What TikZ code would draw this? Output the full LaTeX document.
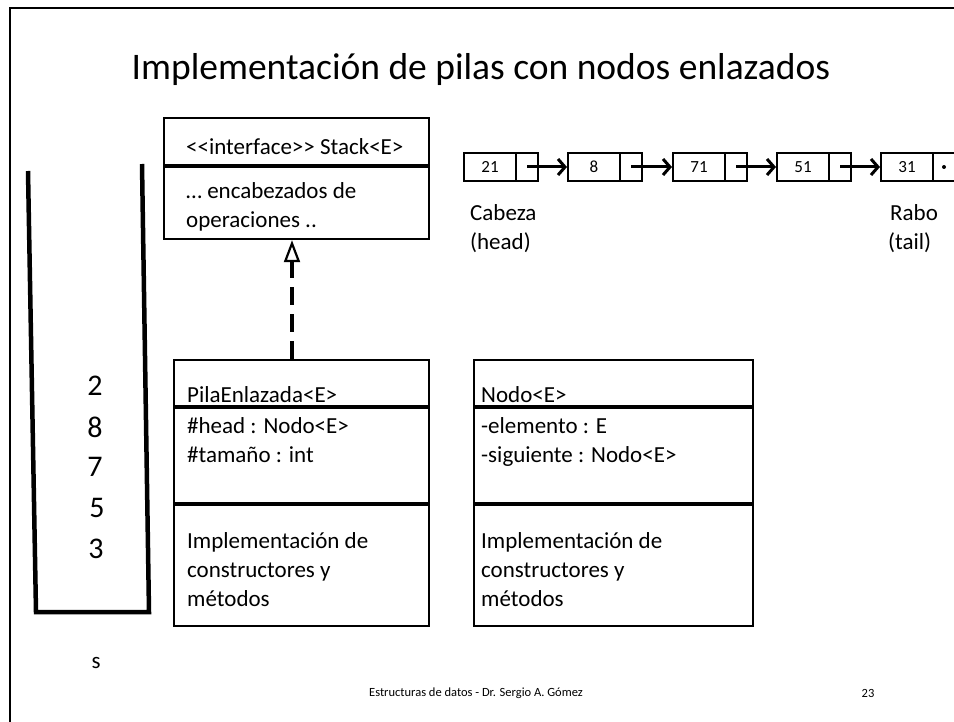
\documentclass[tikz,border=0pt]{standalone}
\usepackage{fontspec}
\setmainfont{Carlito}
\usetikzlibrary{arrows.meta}
\newcommand\fsz[1]{\fontsize{#1pt}{#1pt}\selectfont}
\tikzset{
  box/.style={draw, line width=2.2pt, anchor=north west, inner sep=0pt},
  divider/.style={line width=3.5pt},
  txt/.style={anchor=base west, inner sep=0pt, font=\fsz{23}},
  cell/.style={draw, line width=2pt, anchor=north west, inner sep=0pt, minimum height=28pt},
  num/.style={inner sep=0pt, font=\fsz{17}},
  linkarrow/.style={line width=3pt, -{Straight Barb[length=7pt, width=16pt, line width=3pt]}},
  stackline/.style={line width=4.5pt},
  digit/.style={inner sep=0pt, font=\fsz{30}},
}
\begin{document}
\begin{tikzpicture}[x=1pt, y=-1pt]
\useasboundingbox (0,0) rectangle (954,722);
% slide frame
\coordinate (fa) at (954,8);
\coordinate (fb) at (10,8);
\coordinate (fc) at (10,722);
\draw[line width=2.5pt] (fa) -- (fb) -- (fc);

% title
\node[inner sep=0pt, font=\fsz{37.5}] (title) at (481,70) {Implementación de pilas con nodos enlazados};

% interface box
\node[box, minimum width=265pt, minimum height=121pt] (iface) at (163,117) {};
\draw[divider] (iface.west |- 0,166) -- (iface.east |- 0,166);
\node[txt] (ift) at (186,155) {<{}<interface>{}> Stack<E>};
\node[txt] (ifo1) at (186,199) {… encabezados de};
\node[txt] (ifo2) at (186,228) {operaciones ..};

% PilaEnlazada box
\node[box, minimum width=255pt, minimum height=266pt] (pila) at (173,359) {};
\draw[divider] (pila.west |- 0,407) -- (pila.east |- 0,407);
\draw[divider] (pila.west |- 0,504) -- (pila.east |- 0,504);
\node[txt] (pn) at (187,402) {PilaEnlazada<E>};
\node[txt] (pa1) at (187,433) {\#head : Nodo<E>};
\node[txt] (pa2) at (187,462) {\#tamaño : int};
\node[txt] (pm1) at (187,548) {Implementación de};
\node[txt] (pm2) at (187,577) {constructores y};
\node[txt] (pm3) at (187,606) {métodos};

% Nodo box
\node[box, minimum width=279pt, minimum height=266pt] (nodo) at (473,359) {};
\draw[divider] (nodo.west |- 0,407) -- (nodo.east |- 0,407);
\draw[divider] (nodo.west |- 0,504) -- (nodo.east |- 0,504);
\node[txt] (nn) at (481,402) {Nodo<E>};
\node[txt] (na1) at (481,433) {-elemento : E};
\node[txt] (na2) at (481,462) {-siguiente : Nodo<E>};
\node[txt] (nm1) at (481,548) {Implementación de};
\node[txt] (nm2) at (481,577) {constructores y};
\node[txt] (nm3) at (481,606) {métodos};

% realization arrow
\draw[line width=3.5pt, dash pattern=on 18pt off 9pt,
  -{Triangle[open, length=22pt, width=16pt, line width=2.2pt]}] (pila.north -| 292,0) -- (iface.south -| 292,0);

% linked list
\node[cell, minimum width=52pt] (v1) at (463,152) {};
\node[cell, minimum width=22pt] (p1) at (515,152) {};
\node[cell, minimum width=52pt] (v2) at (567,152) {};
\node[cell, minimum width=22pt] (p2) at (619,152) {};
\node[cell, minimum width=52pt] (v3) at (672,152) {};
\node[cell, minimum width=22pt] (p3) at (724,152) {};
\node[cell, minimum width=52pt] (v4) at (776,152) {};
\node[cell, minimum width=22pt] (p4) at (828,152) {};
\node[cell, minimum width=52pt] (v5) at (880,152) {};
\node[cell, minimum width=22pt] (p5) at (932,152) {};
\node[num] (t1) at (v1.center) {21};
\node[num] (t2) at (v2.center) {8};
\node[num] (t3) at (v3.center) {71};
\node[num] (t4) at (v4.center) {51};
\node[num] (t5) at (v5.center) {31};
\draw[linkarrow] (p1.center) -- (v2.west);
\draw[linkarrow] (p2.center) -- (v3.west);
\draw[linkarrow] (p3.center) -- (v4.west);
\draw[linkarrow] (p4.center) -- (v5.west);
\fill (p5.center) circle (2pt);
\node[txt] (cab1) at (470,221) {Cabeza};
\node[txt] (cab2) at (470,250) {(head)};
\node[txt] (rab1) at (890,221) {Rabo};
\node[txt] (rab2) at (888,250) {(tail)};

% stack drawing
\coordinate (sl1) at (28,171);
\coordinate (sl2) at (36,612);
\coordinate (sr1) at (142,164);
\coordinate (sr2) at (149,612);
\draw[stackline] (sl1) -- (sl2) -- (sr2) -- (sr1);
\node[digit] (d2) at (95,386) {2};
\node[digit] (d8) at (95,427) {8};
\node[digit] (d7) at (95,467) {7};
\node[digit] (d5) at (97,508) {5};
\node[digit] (d3) at (96,549) {3};
\node[inner sep=0pt, font=\fsz{23}] (s) at (96,663) {s};

% footer
\node[inner sep=0pt, font=\fsz{12.5}] (foot) at (476,693) {Estructuras de datos - Dr. Sergio A. Gómez};
\node[inner sep=0pt, font=\fsz{12.5}] (page) at (868,693) {23};
\end{tikzpicture}
\end{document}
